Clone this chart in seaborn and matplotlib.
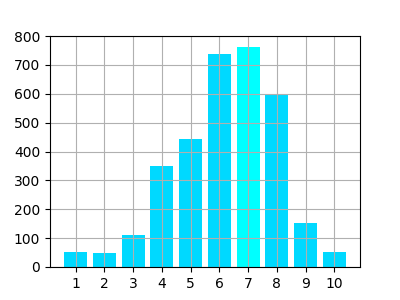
import matplotlib
matplotlib.use("Agg")
import matplotlib.pyplot as plt
import seaborn as sns
import pandas as pd

positions = [1, 2, 3, 4, 5, 6, 7, 8, 9, 10]
values = [52, 48, 111, 350, 443, 738, 762, 597, 152, 52]
colors = ["#00d9ff"] * 6 + ["#00ffff"] + ["#00d9ff"] * 3

df = pd.DataFrame({"x": positions, "y": values})

fig, ax = plt.subplots(figsize=(4, 3), dpi=100)
sns.barplot(data=df, x="x", y="y", hue="x", palette=colors, native_scale=True,
            saturation=1, width=0.8, legend=False, ax=ax, linewidth=0)
ax.set_xticks(positions)
ax.set_xticklabels([str(p) for p in positions])
ax.set_xlim(0.11, 10.89)
ax.set_ylim(0, 800)
ax.set_axisbelow(False)
ax.grid(True, color="#b0b0b0", linewidth=0.8)
for s in ax.spines.values():
    s.set_visible(True)
    s.set_color("black")
    s.set_zorder(3)
ax.set_xlabel("")
ax.set_ylabel("")
fig.savefig("out.png", dpi=100)
